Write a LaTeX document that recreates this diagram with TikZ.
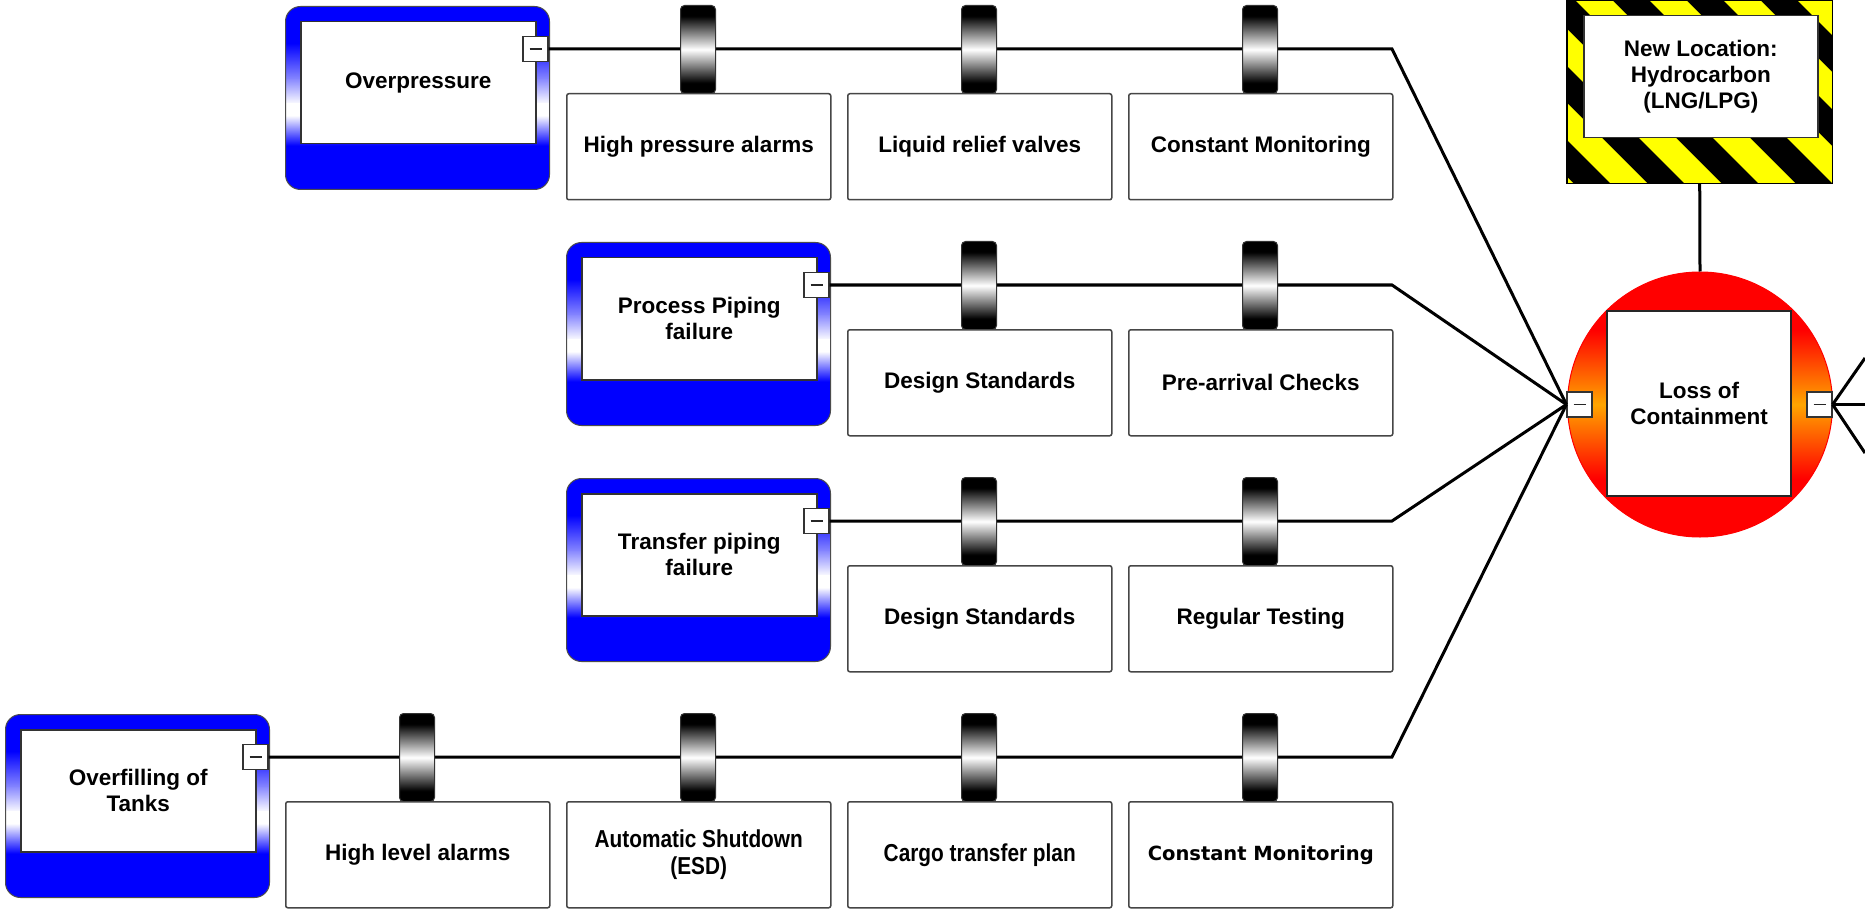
\documentclass[tikz,border=0pt]{standalone}
\usepackage{fontspec}
\setmainfont{Liberation Sans}
\newfontfamily\widesans{DejaVu Sans}
\newfontfamily\narrowsans[FakeStretch=0.85]{Liberation Sans}
\usetikzlibrary{calc}

\definecolor{tblue}{RGB}{0,0,255}
\definecolor{tevorange}{RGB}{255,165,0}
\definecolor{hazyellow}{RGB}{255,255,0}
\definecolor{boxgray}{RGB}{70,70,70}

% symmetric vertical shadings; the band 25bp..75bp covers the shape
\pgfdeclareverticalshading{topeventfill}{100bp}{color(0bp)=(red); color(36bp)=(red); color(50bp)=(tevorange); color(64bp)=(red); color(100bp)=(red)}
\pgfdeclareverticalshading{barrierfill}{100bp}{color(0bp)=(black); color(31bp)=(black); color(50bp)=(white); color(69bp)=(black); color(100bp)=(black)}

\tikzset{
  lbl/.style={font=\bfseries\fontsize{22.5}{26}\selectfont, align=center, text=black},
  lblnarrow/.style={font=\narrowsans\bfseries\fontsize{24.5}{27}\selectfont, align=center, text=black},
  lblwide/.style={font=\widesans\bfseries\fontsize{19.5}{24}\selectfont, align=center, text=black},
  % threat frame: blue, fading to white across the middle of its height
  threatouter/.style={anchor=north west, minimum width=264pt, minimum height=183pt, inner sep=0pt,
    rounded corners=15pt, draw=black!70, line width=1pt, fill=tblue,
    path picture={
      \path (path picture bounding box.north west) coordinate (q1)
            (path picture bounding box.south east) coordinate (q2);
      \shade[sharp corners, top color=tblue, bottom color=tblue!45!white]
        ($(q1)!0.20!(q1 |- q2)$) rectangle ($(q2 |- q1)!0.405!(q2)$);
      \shade[sharp corners, top color=tblue!45!white, bottom color=white]
        ($(q1)!0.40!(q1 |- q2)$) rectangle ($(q2 |- q1)!0.535!(q2)$);
      \fill[sharp corners, white]
        ($(q1)!0.53!(q1 |- q2)$) rectangle ($(q2 |- q1)!0.60!(q2)$);
      \shade[sharp corners, top color=white, bottom color=tblue]
        ($(q1)!0.595!(q1 |- q2)$) rectangle ($(q2 |- q1)!0.76!(q2)$);
    }},
  threatinner/.style={anchor=north west, minimum width=235pt, minimum height=122pt, inner sep=0pt,
    fill=white, draw=black!80, line width=1.5pt, lbl},
  collapse/.style={minimum size=25pt, inner sep=0pt, fill=white, draw=black!80, line width=1.2pt,
    path picture={\draw[line width=1.6pt, black!85]
      ([xshift=-6pt]path picture bounding box.center) -- ([xshift=6pt]path picture bounding box.center);}},
  barrierbox/.style={anchor=north west, minimum width=264pt, minimum height=106pt, inner sep=0pt,
    fill=white, draw=boxgray, line width=1.5pt, rounded corners=2pt, lbl},
  barrierbar/.style={anchor=north, minimum width=35pt, minimum height=88pt, inner sep=0pt,
    rounded corners=4pt, draw=black!80, line width=1pt, shade, shading=barrierfill},
  link/.style={line width=3pt, black},
}

\begin{document}
\begin{tikzpicture}[x=1pt, y=-1pt]
\useasboundingbox (0,0) rectangle (1865,909);
\fill[white] (0,0) rectangle (1865,909);

% ---- threats ----
\node[threatouter] (t1) at (285,6) {};
\node[threatinner] (t1txt) at (300,21) {Overpressure};
\node[collapse] (t1m) at (535.5,49) {};

\node[threatouter] (t2) at (566,242) {};
\node[threatinner] (t2txt) at (581,257) {Process Piping\\failure};
\node[collapse] (t2m) at (816.5,285) {};

\node[threatouter] (t3) at (566,478) {};
\node[threatinner] (t3txt) at (581,493) {Transfer piping\\failure};
\node[collapse] (t3m) at (816.5,521) {};

\node[threatouter] (t4) at (5,714) {};
\node[threatinner] (t4txt) at (20,729) {Overfilling of\\Tanks};
\node[collapse] (t4m) at (255.5,757) {};

% ---- top event ----
\node[circle, minimum size=265pt, inner sep=0pt, shade, shading=topeventfill, draw=red, line width=1pt] (te) at (1700,404.5) {};
\node[lbl, minimum width=184pt, minimum height=185pt, inner sep=0pt, fill=white, draw=black!85, line width=1.8pt] (tebox) at (1699,403.5) {Loss of\\Containment};
\node[collapse] (tel) at (1579.5,404.5) {};
\node[collapse] (ter) at (1819.5,404.5) {};

% ---- hazard ----
\node[anchor=north west, minimum width=265pt, minimum height=183pt, inner sep=0pt, fill=black] (hz) at (1567,0) {};
\begin{scope}
  \clip (hz.north west) rectangle (hz.south east);
  \foreach \k in {-3,...,3} {
    \fill[hazyellow] ({1575+74*\k},0) -- ++(37,0) -- ++(183,183) -- ++(-37,0) -- cycle;
  }
\end{scope}
\draw[black, line width=1.5pt] (hz.north west) rectangle (hz.south east);
\node[anchor=north west, minimum width=234pt, minimum height=122pt, inner sep=0pt, fill=white, draw=black!80, line width=1.5pt, lbl] (hztxt) at (1583,15) {New Location:\\Hydrocarbon\\(LNG/LPG)};

% ---- connectors ----
\coordinate (b1) at (1392,49);
\coordinate (b2) at (1392,285);
\coordinate (b3) at (1392,521);
\coordinate (b4) at (1392,757);
\draw[link] (t1m.east) -- (b1) -- (tel.west);
\draw[link] (t2m.east) -- (b2) -- (tel.west);
\draw[link] (t3m.east) -- (b3) -- (tel.west);
\draw[link] (t4m.east) -- (b4) -- (tel.west);
\draw[link] (hz.south) -- (te.north);

\coordinate (o1) at (1865,358);
\coordinate (o2) at (1865,404.5);
\coordinate (o3) at (1865,453);
\draw[link] (ter.east) -- (o1);
\draw[link] (ter.east) -- (o2);
\draw[link] (ter.east) -- (o3);

% ---- barriers, row 1 ----
\node[barrierbar] (c12) at (698,5) {};
\node[barrierbar] (c13) at (979,5) {};
\node[barrierbar] (c14) at (1260,5) {};
\node[barrierbox] (p12) at (566,93) {High pressure alarms};
\node[barrierbox] (p13) at (847,93) {Liquid relief valves};
\node[barrierbox] (p14) at (1128,93) {Constant Monitoring};

% ---- barriers, row 2 ----
\node[barrierbar] (c23) at (979,241) {};
\node[barrierbar] (c24) at (1260,241) {};
\node[barrierbox] (p23) at (847,329) {Design Standards};
\node[barrierbox] (p24) at (1128,329) {Pre-arrival Checks};

% ---- barriers, row 3 ----
\node[barrierbar] (c33) at (979,477) {};
\node[barrierbar] (c34) at (1260,477) {};
\node[barrierbox] (p33) at (847,565) {Design Standards};
\node[barrierbox] (p34) at (1128,565) {Regular Testing};

% ---- barriers, row 4 ----
\node[barrierbar] (c41) at (417,713) {};
\node[barrierbar] (c42) at (698,713) {};
\node[barrierbar] (c43) at (979,713) {};
\node[barrierbar] (c44) at (1260,713) {};
\node[barrierbox] (p41) at (285,801) {High level alarms};
\node[barrierbox, lblnarrow] (p42) at (566,801) {Automatic Shutdown\\(ESD)};
\node[barrierbox, lblnarrow] (p43) at (847,801) {Cargo transfer plan};
\node[barrierbox, lblwide] (p44) at (1128,801) {Constant Monitoring};
\end{tikzpicture}
\end{document}
